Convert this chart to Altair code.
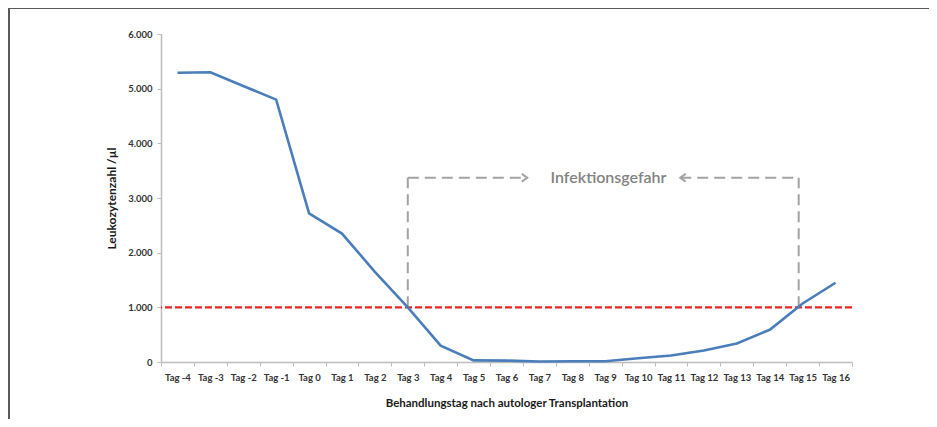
import altair as alt
import pandas as pd

# --- data ---
days = list(range(-4, 17))
day_labels = [f"Tag {d}" for d in days]
leukocytes = [5290, 5300, 5050, 4800, 2720, 2350, 1650, 1000, 300, 30, 25, 10,
              15, 15, 70, 120, 210, 340, 590, 1070, 1450]
threshold = [1000]

# annotation bracket "Infektionsgefahr"
bracket_left_x = 3.0
bracket_right_x = 14.88
bracket_top_y = 3370
arrow_right_x = 6.63
arrow_left_x = 11.28
label_x = 9.1
label_text = "Infektionsgefahr"

W, H = 691, 328
FONT = "Lato"
BLUE = "#4a7ebb"
RED = "#e8251f"
GRAY = "#a3a3a3"

xq = dict(scale=alt.Scale(domain=[-4.5, 16.5], nice=False, zero=False), axis=None)
yscale = alt.Scale(domain=[0, 6000], nice=False, zero=True)

df = pd.DataFrame({"day": days, "label": day_labels, "value": leukocytes})

# axis-only layer (band scale so ticks sit between categories)
axis_layer = alt.Chart(df).mark_bar(opacity=0).encode(
    x=alt.X("label:N", sort=day_labels,
            scale=alt.Scale(type="band", paddingInner=0, paddingOuter=0),
            axis=alt.Axis(title="Behandlungstag nach autologer Transplantation",
                          tickBand="extent", labelAngle=0, tickSize=4,
                          labelPadding=6, titlePadding=16)),
)

line = alt.Chart(df).mark_line(color=BLUE, strokeWidth=2.6).encode(
    x=alt.X("day:Q", **xq),
    y=alt.Y("value:Q", scale=yscale,
            axis=alt.Axis(title="Leukozytenzahl /µl", values=[0, 1000, 2000, 3000, 4000, 5000, 6000],
                          labelExpr="replace(format(datum.value, ','), ',', '.')",
                          tickSize=4, labelPadding=5, titlePadding=9, grid=False,
                          titleFontSize=12)),
)

thr = alt.Chart(pd.DataFrame({"t": threshold})).mark_rule(
    color=RED, strokeWidth=2.4, strokeDash=[7, 3]).encode(y=alt.Y("t:Q", scale=yscale))

seg = pd.DataFrame({
    "x": [bracket_left_x, bracket_right_x, bracket_left_x, arrow_left_x],
    "x2": [bracket_left_x, bracket_right_x, arrow_right_x, bracket_right_x],
    "y": [threshold[0], threshold[0], bracket_top_y, bracket_top_y],
    "y2": [bracket_top_y, bracket_top_y, bracket_top_y, bracket_top_y],
})
bracket = alt.Chart(seg).mark_rule(color=GRAY, strokeWidth=2, strokeDash=[11, 6]).encode(
    x=alt.X("x:Q", **xq), x2="x2:Q",
    y=alt.Y("y:Q", scale=yscale), y2="y2:Q",
)

arrows_df = pd.DataFrame({"x": [arrow_right_x, arrow_left_x], "y": [bracket_top_y] * 2,
                          "dir": ["r", "l"]})
arr_r = alt.Chart(arrows_df[arrows_df.dir == "r"]).mark_point(
    shape="M -1.4 -1 L 0 0 L -1.4 1", size=60, filled=False, color=GRAY, strokeWidth=2,
    opacity=1).encode(x=alt.X("x:Q", **xq), y=alt.Y("y:Q", scale=yscale))
arr_l = alt.Chart(arrows_df[arrows_df.dir == "l"]).mark_point(
    shape="M 1.4 -1 L 0 0 L 1.4 1", size=60, filled=False, color=GRAY, strokeWidth=2,
    opacity=1).encode(x=alt.X("x:Q", **xq), y=alt.Y("y:Q", scale=yscale))

label = alt.Chart(pd.DataFrame({"x": [label_x], "y": [bracket_top_y], "t": [label_text]})).mark_text(
    font=FONT, fontSize=16, fontWeight=600, color="#838383", baseline="middle", align="center").encode(
    x=alt.X("x:Q", **xq), y=alt.Y("y:Q", scale=yscale), text="t:N")

# outer frame (top and left edges of the picture box)
frame = alt.Chart(pd.DataFrame({"a": [0]}))
frame_left = frame.mark_rule(color="#5a5a5a", strokeWidth=2).encode(
    x=alt.value(-152), y=alt.value(-26), y2=alt.value(400))
frame_top = frame.mark_rule(color="#5a5a5a", strokeWidth=2).encode(
    x=alt.value(-152), x2=alt.value(790), y=alt.value(-26))

chart = alt.layer(axis_layer, thr, bracket, arr_r, arr_l, label, line, frame_left, frame_top).resolve_scale(
    x="independent"
).properties(
    width=W, height=H,
    padding={"left": 153, "top": 26, "right": 77, "bottom": 57},
    autosize=alt.AutoSizeParams(type="none"),
).configure_view(stroke=None).configure_axis(
    labelFont=FONT, labelFontWeight="bold", labelFontSize=9.5, labelColor="#333333",
    titleFont=FONT, titleFontWeight="bold", titleFontSize=11.5, titleColor="#1a1a1a",
    domainColor="#bdbdbd", domainWidth=1.5, tickColor="#bdbdbd", tickWidth=1,
)

chart.save("out.html", embed_options={"renderer": "svg", "actions": False})
